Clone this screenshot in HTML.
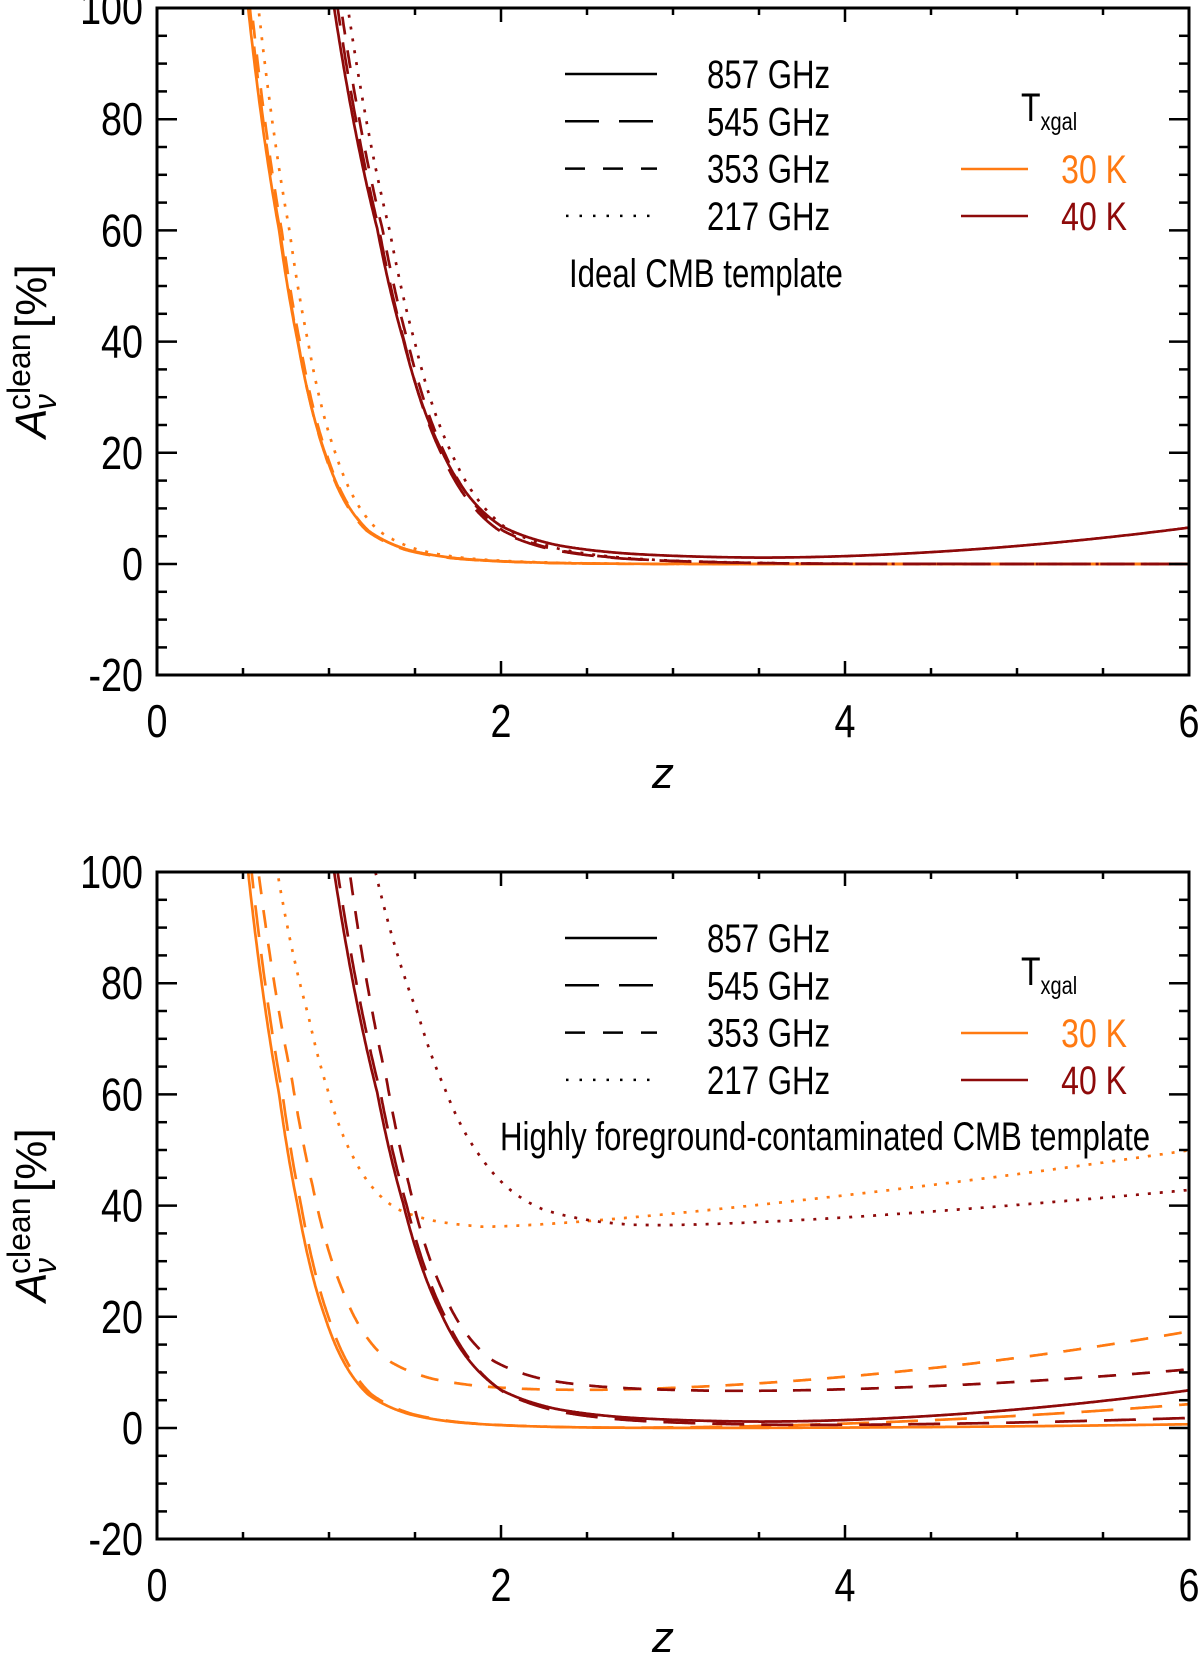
<!DOCTYPE html>
<html><head><meta charset="utf-8"><style>
html,body{margin:0;padding:0;background:#fff;}
svg{display:block;}
text{font-family:"Liberation Sans",sans-serif;}
</style></head><body>
<svg id="s" width="1200" height="1658" xmlns="http://www.w3.org/2000/svg">
<defs>
<clipPath id="c0"><rect x="157" y="8" width="1032" height="667"/></clipPath>
<clipPath id="c1"><rect x="157" y="872" width="1032" height="667"/></clipPath>
</defs>
<g id="content"></g>
</svg>
<script>
(function(){
var NS="http://www.w3.org/2000/svg";
var root=document.getElementById("content");
function el(tag,attrs,parent,txt){var e=document.createElementNS(NS,tag);for(var k in attrs)e.setAttribute(k,attrs[k]);if(txt!==undefined)e.textContent=txt;(parent||root).appendChild(e);return e;}
var X0=157,XS=172;
var OR="#ff7a12",DR="#8e0a0a";
var DASH={solid:"",long:"32,17",dash:"18,16",dot:"3,9"};
var K=[[0,100],[0.25,60],[0.4,40],[0.62,20],[0.97,6],[1.3,2.5],[1.7,1],[2.3,0.3],[3,0.05],[4,0.005],[7,0.0001]];
function D0(u){ if(u<=0){var s=Math.log(60/100)/0.25; return 100*Math.exp(s*u);}
 for(var i=1;i<K.length;i++){if(u<=K[i][0]){var a=K[i-1],b=K[i];var t=(u-a[0])/(b[0]-a[0]);return Math.exp(Math.log(a[1])+(Math.log(b[1])-Math.log(a[1]))*t);}}
 return 0;}
function curve(p,c){
  var Y0=564+p*864;
  function B(z){var d=Math.max(0,z-c.zm);return c.m+c.a*d+c.b*d*d;}
  var amp=100-B(c.z100);
  var pts=[];
  for(var z=0.3;z<=6.001;z+=0.005){
    var u=(z-c.z100)/c.st;
    var v=B(z)+amp*D0(u)/100;
    if(v>130)continue;
    pts.push((X0+XS*z).toFixed(1)+","+(Y0-5.56*v).toFixed(1));
  }
  var a={points:pts.join(" "),fill:"none",stroke:c.col,"stroke-width":2.7,"clip-path":"url(#c"+p+")","stroke-linejoin":"round"};
  if(DASH[c.d])a["stroke-dasharray"]=DASH[c.d];
  el("polyline",a);
}
function C(col,d,z100,st,m,zm,a,b){return {col:col,d:d,z100:z100,st:st,m:m||0,zm:zm||0,a:a||0,b:b||0};}
var top=[
 C(OR,"solid",0.53,0.72),C(OR,"long",0.54,0.70),C(OR,"dash",0.55,0.70),C(OR,"dot",0.59,0.72),
 C(DR,"long",1.05,0.97),C(DR,"dash",1.07,0.97),C(DR,"dot",1.11,0.97),C(DR,"solid",1.03,1.0,0.9,3.2,0,0.72)
];
var bot=[
 C(OR,"solid",0.53,0.72,0,3.0,0,0.075),C(OR,"long",0.55,0.72,0,2.5,0,0.35),C(OR,"dash",0.59,0.78,6.5,2.0,0,0.68),
 C(OR,"dot",0.70,0.72,35.5,1.9,2.5,0.25),
 C(DR,"solid",1.03,1.0,0.9,3.2,0,0.75),C(DR,"long",1.05,1.0,0.4,3.2,0,0.18),C(DR,"dash",1.12,0.86,6.5,3.0,0,0.45),
 C(DR,"dot",1.27,1.0,35.5,2.75,1.6,0.2)
];
top.forEach(function(c){curve(0,c);});
bot.forEach(function(c){curve(1,c);});

function stxt(x,y,str,size,anchor,fill,sx){
  return el("text",{transform:"translate("+x+","+y+") scale("+(sx||0.86)+",1)","font-size":size,"text-anchor":anchor||"start",fill:fill||"#000"},root,str);
}
function panel(p,label){
  var off=p*864,T=8+off,Bm=675+off,Y0=564+off;
  el("rect",{x:157,y:T,width:1032,height:667,fill:"none",stroke:"#000","stroke-width":3});
  for(var v=-20;v<=100;v+=5){
    var y=Y0-5.56*v; var maj=(v%20===0); var L=maj?20:10;
    el("line",{x1:157,y1:y,x2:157+L,y2:y,stroke:"#000","stroke-width":2.5});
    el("line",{x1:1189,y1:y,x2:1189-L,y2:y,stroke:"#000","stroke-width":2.5});
    if(maj) stxt(143,y+16,String(v),46,"end","#000",0.82);
  }
  for(var z=0;z<=6.001;z+=0.5){
    var x=X0+XS*z; var maj=(Math.abs(z-Math.round(z/2)*2)<0.01); var L=maj?14:7;
    el("line",{x1:x,y1:Bm,x2:x,y2:Bm-L,stroke:"#000","stroke-width":2.5});
    el("line",{x1:x,y1:T,x2:x,y2:T+L,stroke:"#000","stroke-width":2.5});
    if(maj) stxt(x,737+off,String(Math.round(z)),46,"middle","#000",0.82);
  }
  el("text",{x:663,y:788+off,"font-size":44,"font-style":"italic","font-family":"'Liberation Serif',serif","text-anchor":"middle"},root,"z");
  var g=el("g",{transform:"translate(46,"+(348+off)+") rotate(-90)"});
  var sf="'Liberation Serif',serif";
  el("text",{x:-90,y:0,"font-family":sf,"font-size":44,"font-style":"italic"},g,"A");
  el("text",{x:-62,y:-16,"font-family":sf,"font-size":32},g,"clean");
  el("text",{x:-62,y:10,"font-family":sf,"font-size":32,"font-style":"italic"},g,"\u03bd");
  el("text",{x:20,y:0,"font-family":sf,"font-size":44},g,"[%]");
  var rows=[["solid","857 GHz"],["long","545 GHz"],["dash","353 GHz"],["dot","217 GHz"]];
  rows.forEach(function(r,i){
    var y=74+47.3*i+off;
    var a={x1:565,y1:y,x2:657,y2:y,stroke:"#000","stroke-width":2.5};
    if(r[0]==="long")a["stroke-dasharray"]="34,20";
    if(r[0]==="dash")a["stroke-dasharray"]="20,18";
    if(r[0]==="dot"){a["stroke-dasharray"]="2.5,11";a.x1=566;}
    el("line",a);
    stxt(707,y+14,r[1],40,"start","#000",0.78);
  });
  var tg=el("text",{transform:"translate(1021,"+(121+off)+") scale(0.8,1)","font-size":40},root);
  el("tspan",{},tg,"T");
  el("tspan",{"font-size":25,dy:9},tg,"xgal");
  el("line",{x1:961,y1:169+off,x2:1028,y2:169+off,stroke:OR,"stroke-width":2.5});
  el("line",{x1:961,y1:216+off,x2:1028,y2:216+off,stroke:DR,"stroke-width":2.5});
  stxt(1127,183+off,"30 K",40,"end",OR,0.8);
  stxt(1127,230+off,"40 K",40,"end",DR,0.8);
  if(p===0) stxt(569,287,label,40,"start","#000",0.78);
  else stxt(500,1150,label,40,"start","#000",0.78);
}
panel(0,"Ideal CMB template");
panel(1,"Highly foreground-contaminated CMB template");
})();
</script>
</body></html>
